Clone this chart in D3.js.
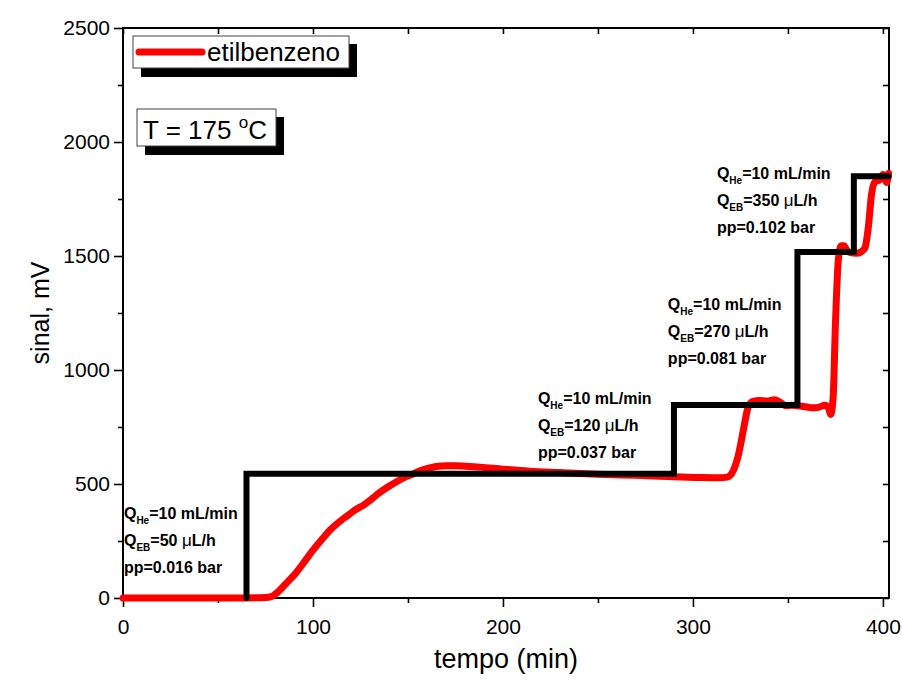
<!DOCTYPE html>
<html>
<head>
<meta charset="utf-8">
<script src="https://cdn.jsdelivr.net/npm/d3@7"></script>
<style>
  html, body { margin: 0; padding: 0; background: #fff; }
  svg { display: block; font-family: "Liberation Sans", Arial, sans-serif; }
</style>
</head>
<body>
<svg id="chart" width="902" height="681"></svg>
<script>
// signal of ethylbenzene (red)
const tempo = [0, 60, 75, 78, 82, 86, 91, 96, 100, 105, 109, 114, 118, 122, 127, 131, 135, 140, 144, 148,
  152, 157, 162, 166, 170, 175, 180, 188, 200, 214, 230, 250, 270, 290, 305, 314, 318, 321, 324, 326.5,
  329, 331.5, 335, 339, 343, 346, 349, 352, 356, 360, 363, 366, 369.5, 371.5, 372.5, 373.8, 375, 376.5,
  378, 379.5, 381, 383, 386, 388.5, 390.5, 392.3, 394, 395.8, 398.4, 400, 401.2, 402, 403];
const sinal = [0, 0, 2, 6, 30, 65, 110, 165, 210, 260, 298, 335, 360, 385, 410, 435, 462, 490, 510, 528,
  542, 560, 572, 578, 580, 580, 578, 574, 565, 556, 550, 543, 538, 532, 528, 527, 530, 555, 630, 735,
  835, 862, 866, 864, 870, 858, 843, 845, 842, 838, 834, 836, 845, 830, 805, 880, 1200, 1480,
  1545, 1545, 1525, 1515, 1512, 1518, 1535, 1625, 1770, 1825, 1835, 1858, 1835, 1822, 1862];

// imposed signal steps (black)
const stepTempo = [65, 65, 290, 355, 384.7, 403];
const stepSinal = [0, 545, 847, 1517, 1850, 1850];

// flow conditions written beside each step
const annTempo = [0.5, 218.4, 286.8, 312.6];
const annSinal = [346, 851, 1263, 1838];
const annQEB = ['50', '120', '270', '350'];
const annPP = ['0.016', '0.037', '0.081', '0.102'];

const xTicks = [0, 100, 200, 300, 400];
const xMinor = [50, 150, 250, 350];
const yTicks = [0, 500, 1000, 1500, 2000, 2500];
const yMinor = [250, 750, 1250, 1750, 2250];

const width = 902;
const height = 681;
const margin = { top: 28, right: 13, bottom: 83, left: 123 };
const innerWidth = width - margin.left - margin.right;
const innerHeight = height - margin.top - margin.bottom;

const svg = d3.select('#chart');
const g = svg.append('g')
  .attr('transform', `translate(${margin.left},${margin.top})`);

const xScale = d3.scaleLinear().domain([0, 403.2]).range([0, innerWidth]);
const yScale = d3.scaleLinear().domain([0, 2500]).range([innerHeight, 0]);

// axes: outward ticks on bottom/left, inward on top/right
const tickFont = 21;
function styleAxis(sel) {
  sel.select('.domain').remove();
  sel.selectAll('line').attr('stroke', '#000').attr('stroke-width', 1.6);
  sel.selectAll('text').attr('font-size', tickFont).attr('fill', '#000')
    .attr('font-family', '"Liberation Sans", Arial, sans-serif');
}
// tick marks only, no labels
function bareAxis(sel) {
  styleAxis(sel);
  sel.selectAll('text').remove();
}

g.append('g').attr('transform', `translate(0,${innerHeight})`)
  .call(d3.axisBottom(xScale).tickValues(xTicks).tickSize(9).tickPadding(12).tickFormat(d3.format('d')))
  .call(styleAxis);
g.append('g').attr('transform', `translate(0,${innerHeight})`)
  .call(d3.axisBottom(xScale).tickValues(xMinor).tickSize(5))
  .call(bareAxis);
g.append('g')
  .call(d3.axisLeft(yScale).tickValues(yTicks).tickSize(9).tickPadding(4).tickFormat(d3.format('d')))
  .call(styleAxis);
g.append('g')
  .call(d3.axisLeft(yScale).tickValues(yMinor).tickSize(5))
  .call(bareAxis);
g.append('g')
  .call(d3.axisTop(xScale).tickValues(xTicks.concat(xMinor)).tickSize(-6))
  .call(bareAxis);
g.append('g').attr('transform', `translate(${innerWidth},0)`)
  .call(d3.axisRight(yScale).tickValues(yTicks.concat(yMinor)).tickSize(-6))
  .call(bareAxis);

// frame
g.append('rect')
  .attr('width', innerWidth)
  .attr('height', innerHeight)
  .attr('fill', 'none')
  .attr('stroke', '#000')
  .attr('stroke-width', 2);

// axis titles
g.append('text')
  .attr('x', innerWidth / 2)
  .attr('y', innerHeight + 70)
  .attr('text-anchor', 'middle')
  .attr('font-size', 27)
  .text('tempo (min)');

g.append('text')
  .attr('transform', 'rotate(-90)')
  .attr('x', -innerHeight / 2)
  .attr('y', -margin.left + 49)
  .attr('text-anchor', 'middle')
  .attr('font-size', 25)
  .text('sinal, mV');

// curves
const redPoints = tempo.map((t, i) => [t, sinal[i]]);
const stepPoints = stepTempo.map((t, i) => [t, stepSinal[i]]);

g.append('path')
  .datum(redPoints)
  .attr('fill', 'none')
  .attr('stroke', '#ff0000')
  .attr('stroke-width', 7)
  .attr('stroke-linejoin', 'round')
  .attr('stroke-linecap', 'round')
  .attr('d', d3.line().x(d => xScale(d[0])).y(d => yScale(d[1])).curve(d3.curveMonotoneX));

g.append('path')
  .datum(stepPoints)
  .attr('fill', 'none')
  .attr('stroke', '#000')
  .attr('stroke-width', 6)
  .attr('stroke-linejoin', 'miter')
  .attr('stroke-linecap', 'round')
  .attr('d', d3.line().x(d => xScale(d[0])).y(d => yScale(d[1])).curve(d3.curveStepAfter));

// write a row of text pieces one after the other (no tspans)
function pieces(parent, x, y, parts) {
  let cx = x;
  parts.forEach(p => {
    const t = parent.append('text')
      .attr('x', cx)
      .attr('y', y + (p.dy || 0))
      .attr('font-size', p.size)
      .attr('font-weight', p.weight || 'normal')
      .text(p.text);
    cx += t.node().getComputedTextLength();
  });
}

// annotations
const annFont = 16;
const subFont = 10;
const lineGap = 27;
annTempo.forEach((t, i) => {
  const ax = xScale(t);
  const ay = yScale(annSinal[i]);
  const a = g.append('g');
  pieces(a, ax, ay, [
    { text: 'Q', size: annFont, weight: 'bold' },
    { text: 'He', size: subFont, weight: 'bold', dy: 5 },
    { text: '=10 mL/min', size: annFont, weight: 'bold' }
  ]);
  pieces(a, ax, ay + lineGap, [
    { text: 'Q', size: annFont, weight: 'bold' },
    { text: 'EB', size: subFont, weight: 'bold', dy: 5 },
    { text: '=' + annQEB[i] + '\u00a0', size: annFont, weight: 'bold' },
    { text: '\u03bc', size: 17 },
    { text: 'L/h', size: annFont, weight: 'bold' }
  ]);
  pieces(a, ax, ay + 2 * lineGap, [
    { text: 'pp=' + annPP[i] + ' bar', size: annFont, weight: 'bold' }
  ]);
});

// legend box with shadow
const legend = svg.append('g');
legend.append('rect').attr('x', 141).attr('y', 44).attr('width', 216).attr('height', 33).attr('fill', '#000');
legend.append('rect').attr('x', 133).attr('y', 36).attr('width', 216).attr('height', 32)
  .attr('fill', '#fff').attr('stroke', '#444').attr('stroke-width', 1);
legend.append('line').attr('x1', 139).attr('x2', 202).attr('y1', 52).attr('y2', 52)
  .attr('stroke', '#ff0000').attr('stroke-width', 7).attr('stroke-linecap', 'round');
legend.append('text').attr('x', 207).attr('y', 61).attr('font-size', 26).text('etilbenzeno');

// temperature box with shadow
const tbox = svg.append('g');
tbox.append('rect').attr('x', 145).attr('y', 117).attr('width', 139).attr('height', 38).attr('fill', '#000');
tbox.append('rect').attr('x', 137).attr('y', 109).attr('width', 139).attr('height', 37)
  .attr('fill', '#fff').attr('stroke', '#444').attr('stroke-width', 1);
pieces(tbox, 143, 139, [
  { text: 'T = 175\u00a0', size: 26 },
  { text: 'o', size: 17, dy: -11 },
  { text: 'C', size: 26 }
]);
</script>
</body>
</html>
